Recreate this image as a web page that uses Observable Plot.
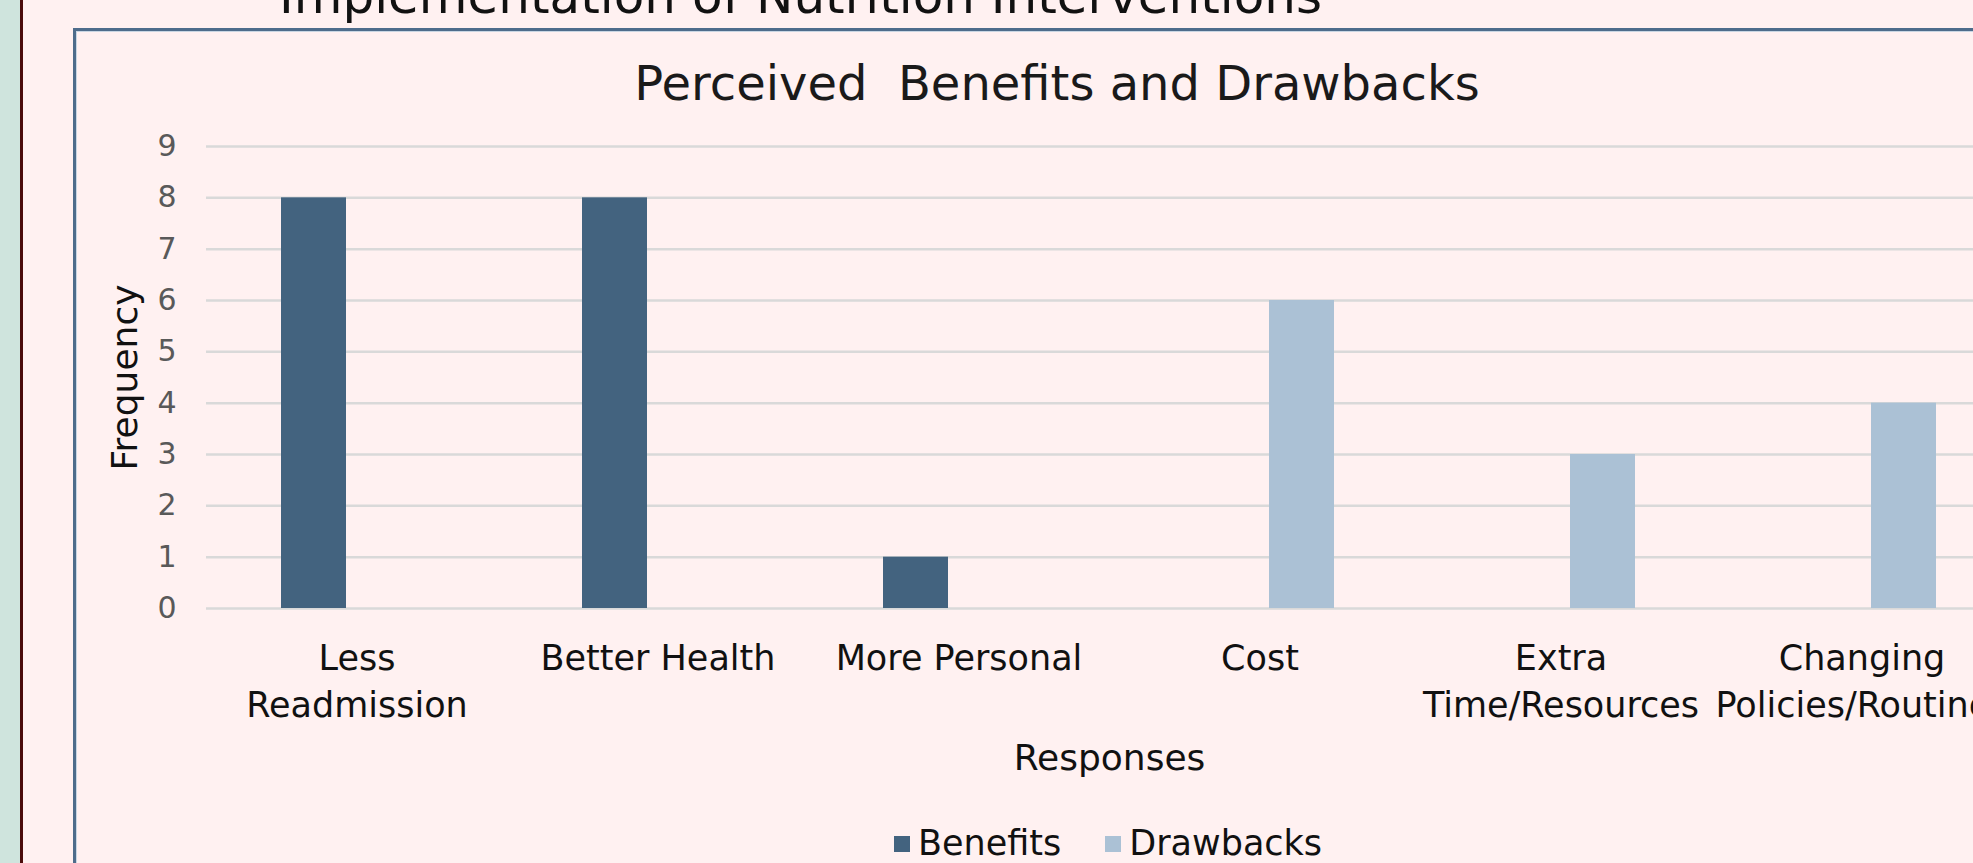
<!DOCTYPE html>
<html>
<head>
<meta charset="utf-8">
<script src="https://cdn.jsdelivr.net/npm/d3@7"></script>
<script src="https://cdn.jsdelivr.net/npm/@observablehq/plot@0.6"></script>
<style>
  html, body { margin: 0; padding: 0; overflow: hidden; width: 1973px; height: 863px; }
  body { background: #FFF1F1; position: relative; font-family: "DejaVu Sans", sans-serif; }
  #strip { position: absolute; left: 0; top: 0; width: 20px; height: 863px; background: #CFE4DD; }
  #redline { position: absolute; left: 20px; top: 0; width: 3px; height: 863px; background: #4B0B0B; }
  #frame { position: absolute; left: 73px; top: 28px; width: 2100px; height: 1000px; border: 3px solid #4E6C8B; box-shadow: inset 1px 1px 0 #C9D6E3; box-sizing: border-box; }
  #slideTitle { position: absolute; left: 279px; top: -29px; font-size: 50px; line-height: 1; color: #111; white-space: nowrap; }
  #chartTitle { position: absolute; left: 0; width: 2114px; top: 59px; font-size: 48px; line-height: 1; color: #1a1a1a; text-align: center; white-space: pre; }
  #chart { position: absolute; left: 0; top: 0; width: 2030px; }
  #chart svg { max-width: none !important; }
  #legend { position: absolute; left: 894px; top: 826px; display: flex; align-items: center; font-size: 35px; line-height: 1; color: #111; white-space: nowrap; }
  .sw { width: 16px; height: 16px; display: inline-block; margin-right: 8px; }
  .item { display: flex; align-items: center; margin-right: 44px; }
  g[aria-label="y-axis label"], g[aria-label="fx-axis label"] { fill: #111; }
</style>
</head>
<body>
<div id="strip"></div>
<div id="redline"></div>
<div id="frame"></div>
<div id="slideTitle">Implementation of Nutrition Interventions</div>
<div id="chartTitle">Perceived  Benefits and Drawbacks</div>
<div id="chart"></div>
<div id="legend"></div>
<script>
const categories = ["Less Readmission", "Better Health", "More Personal", "Cost", "Extra Time/Resources", "Changing Policies/Routines"];
const categoryLabels = ["Less\nReadmission", "Better Health", "More Personal", "Cost", "Extra\nTime/Resources", "Changing\nPolicies/Routines"];
const series = ["Benefits", "Drawbacks"];
const benefits = [8, 8, 1, 0, 0, 0];
const drawbacks = [0, 0, 0, 6, 3, 4];
const yTicks = [0, 1, 2, 3, 4, 5, 6, 7, 8, 9];
const colors = ["#43637F", "#ABC1D5"];

const rows = [];
categories.forEach((c, i) => {
  rows.push({category: c, series: "Benefits", value: benefits[i]});
  rows.push({category: c, series: "Drawbacks", value: drawbacks[i]});
});
const labelOf = new Map(categories.map((c, i) => [c, categoryLabels[i]]));

const chart = Plot.plot({
  width: 2030,
  height: 863,
  marginLeft: 205,
  marginRight: 17,
  marginTop: 146,
  marginBottom: 255,
  style: {background: "transparent", fontFamily: "DejaVu Sans", overflow: "visible", maxWidth: "none"},
  facet: {data: rows, x: "category"},
  fx: {domain: categories, padding: 0},
  x: {domain: series, paddingInner: 0.2326, paddingOuter: 0.868, axis: null},
  y: {domain: [0, 9]},
  color: {domain: series, range: colors},
  marks: [
    Plot.ruleY(yTicks, {stroke: "#D9D9D9", strokeWidth: 2.5}),
    Plot.barY(rows, {x: "series", y: "value", fill: "series"}),
    Plot.axisY({ticks: yTicks, tickSize: 0, tickPadding: 30, fontSize: 30, fill: "#595959",
      label: "Frequency", labelArrow: "none", labelAnchor: "center", labelOffset: 95}),
    Plot.axisFx({anchor: "bottom", tickSize: 0, tickPadding: 28, fontSize: 35, lineHeight: 1.34,
      fill: "#111", tickFormat: d => labelOf.get(d), label: "Responses", labelArrow: "none", labelAnchor: "center", labelOffset: 161})
  ]
});
chart.querySelectorAll('g[aria-label="y-axis label"] text, g[aria-label="fx-axis label"] text').forEach(t => t.setAttribute("font-size", 36));
chart.style.maxWidth = "none";
document.getElementById("chart").appendChild(chart);

const legend = document.getElementById("legend");
series.forEach((s, i) => {
  const item = document.createElement("div");
  item.className = "item";
  const sw = document.createElement("span");
  sw.className = "sw";
  sw.style.background = colors[i];
  item.appendChild(sw);
  item.appendChild(document.createTextNode(s));
  legend.appendChild(item);
});
</script>
</body>
</html>
